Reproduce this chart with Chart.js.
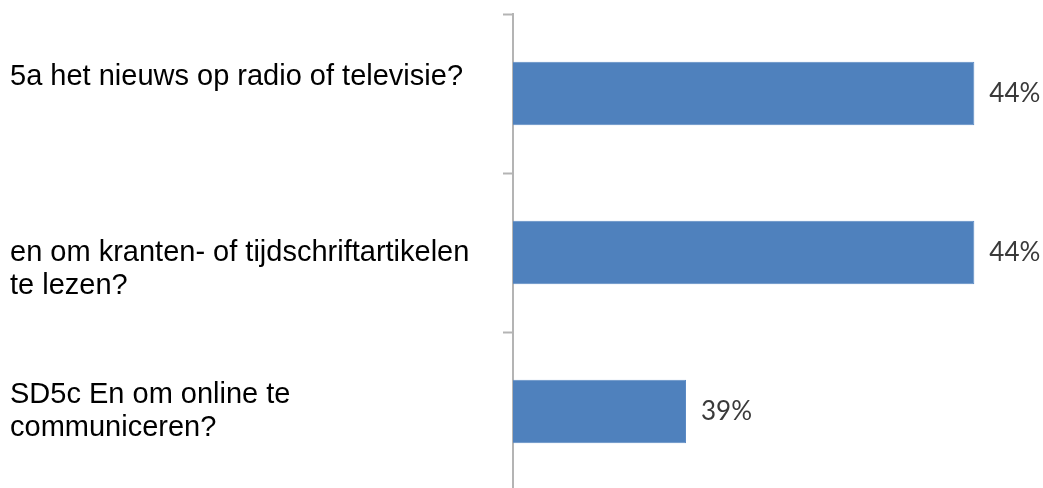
<!DOCTYPE html>
<html>
<head>
<meta charset="utf-8">
<script src="https://cdn.jsdelivr.net/npm/chart.js@4"></script>
<style>
  html, body { margin: 0; padding: 0; background: #ffffff; overflow: hidden; }
  #wrap { width: 1043px; height: 491px; }
</style>
</head>
<body>
<div id="wrap"><canvas id="mediaChart"></canvas></div>
<script>
// vragen (met lege regels om de tekst wat te verschuiven)
const questions = [
    ['5a het nieuws op radio of televisie?', ''],
    ['', 'en om kranten- of tijdschriftartikelen', 'te lezen?'],
    ['SD5c En om online te', 'communiceren?']
];
const percentages = [44, 44, 39];
const axisMin = 36;
const axisMax = 45;

// percentage rechts naast elke balk
const valueLabels = {
    id: 'valueLabels',
    afterDatasetsDraw(chart) {
        const ctx = chart.ctx;
        const meta = chart.getDatasetMeta(0);
        ctx.save();
        ctx.font = '26px Lato';
        ctx.fillStyle = '#3a3a3a';
        ctx.textAlign = 'left';
        ctx.textBaseline = 'middle';
        meta.data.forEach(function (bar, i) {
            ctx.fillText(percentages[i] + '%', bar.x + 15, bar.y);
        });
        ctx.restore();
    }
};

const canvas = document.getElementById('mediaChart');
new Chart(canvas.getContext('2d'), {
    type: 'bar',
    data: {
        labels: questions,
        datasets: [{
            data: percentages,
            backgroundColor: '#4F81BD',
            borderColor: '#5b8ac4',
            borderWidth: 1,
            barPercentage: 0.4,
            categoryPercentage: 1
        }]
    },
    options: {
        indexAxis: 'y',
        responsive: true,
        maintainAspectRatio: false,
        animation: false,
        layout: {
            padding: { left: 10, right: 11, top: 14, bottom: 0 }
        },
        plugins: {
            legend: { display: false },
            tooltip: { enabled: false }
        },
        scales: {
            x: {
                display: false,
                min: axisMin,
                max: axisMax
            },
            y: {
                afterFit(scale) {
                    scale.width = 503;
                    scale.paddingTop = 0;
                    scale.paddingBottom = 0;
                },
                border: {
                    display: true,
                    color: '#b4b4b4',
                    width: 2
                },
                grid: {
                    offset: true,
                    drawOnChartArea: false,
                    drawTicks: true,
                    tickLength: 10,
                    tickWidth: 2,
                    color: '#b4b4b4'
                },
                ticks: {
                    crossAlign: 'far',
                    color: '#000000',
                    padding: 4,
                    font: { family: 'Liberation Sans', size: 29, lineHeight: 1.14 }
                }
            }
        }
    },
    plugins: [valueLabels]
});
</script>
</body>
</html>
